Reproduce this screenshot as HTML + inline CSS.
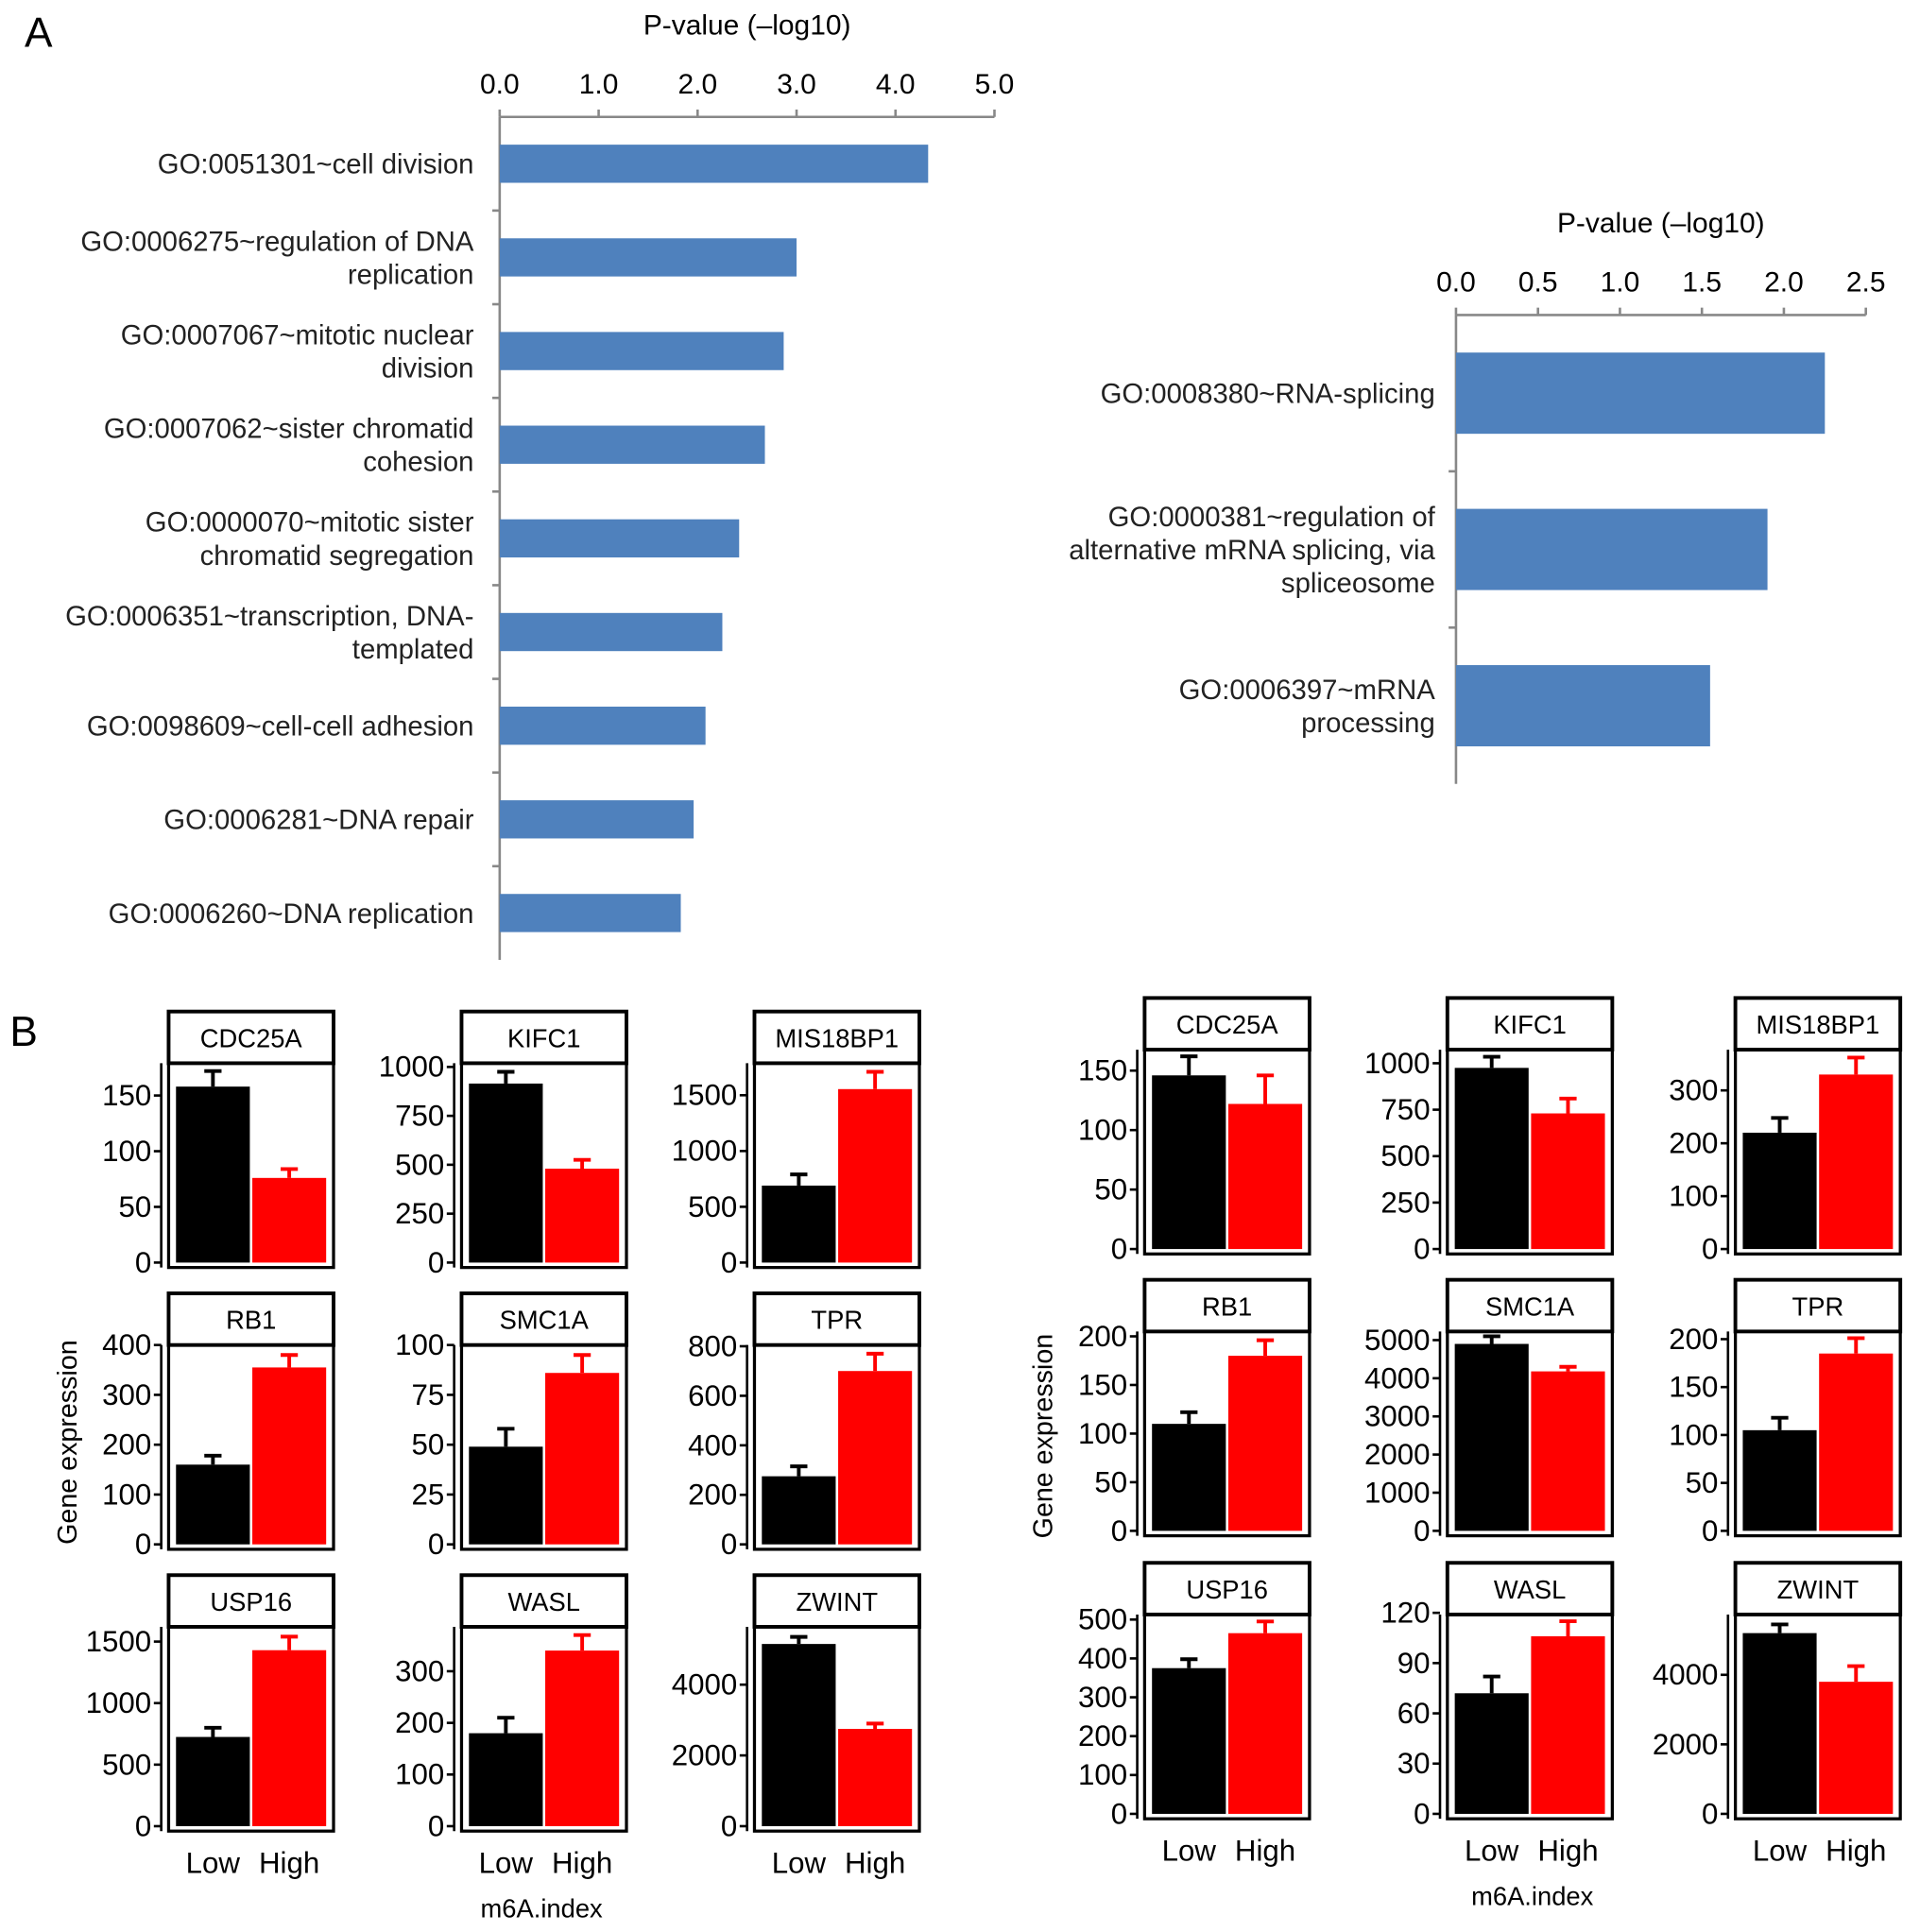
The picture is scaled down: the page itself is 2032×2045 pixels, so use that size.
<!DOCTYPE html>
<html><head><meta charset="utf-8"><style>
html,body{margin:0;padding:0;background:#fff;}
svg{display:block;font-family:"Liberation Sans",Arial,sans-serif;}
</style></head><body>
<svg id="fig" xmlns="http://www.w3.org/2000/svg" width="2032" height="2045" viewBox="0 0 1560 1570" preserveAspectRatio="none">
<text x="20" y="38" font-size="34">A</text>
<text x="8" y="850" font-size="34">B</text>
<g id="ga"></g><g id="gb"></g>
</svg>
<script>
const NS='http://www.w3.org/2000/svg';
function el(p,tag,at,txt){const e=document.createElementNS(NS,tag);for(const k in at)e.setAttribute(k,at[k]);if(txt!==undefined)e.textContent=txt;p.appendChild(e);return e;}

// ---- Panel A data ----
const leftTerms=[["GO:0051301~cell division"],["GO:0006275~regulation of DNA","replication"],["GO:0007067~mitotic nuclear","division"],["GO:0007062~sister chromatid","cohesion"],["GO:0000070~mitotic sister","chromatid segregation"],["GO:0006351~transcription, DNA-","templated"],["GO:0098609~cell-cell adhesion"],["GO:0006281~DNA repair"],["GO:0006260~DNA replication"]];
const leftValues=[4.33,3.0,2.87,2.68,2.42,2.25,2.08,1.96,1.83];
const leftTicks=[0,1,2,3,4,5];
const rightTerms=[["GO:0008380~RNA-splicing"],["GO:0000381~regulation of","alternative mRNA splicing, via","spliceosome"],["GO:0006397~mRNA","processing"]];
const rightValues=[2.25,1.9,1.55];
const rightTicks=[0,0.5,1.0,1.5,2.0,2.5];

function barChart(g,o,terms,vals,ticks,dec,name){
  const x=v=>o.x0+(v-ticks[0])/(ticks[ticks.length-1]-ticks[0])*(o.x1-o.x0);
  const n=terms.length, step=(o.yb-o.yt)/n;
  el(g,'text',{x:(o.x0+o.x1)/2,y:o.yt-67,'font-size':23,'text-anchor':'middle',},'P-value (\u2013log10)');
  el(g,'line',{x1:o.x0,y1:o.yt,x2:o.x1,y2:o.yt,stroke:'#888','stroke-width':2});
  el(g,'line',{x1:o.x0,y1:o.yt,x2:o.x0,y2:o.yb,stroke:'#888','stroke-width':2});
  ticks.forEach(t=>{el(g,'line',{x1:x(t),y1:o.yt,x2:x(t),y2:o.yt-6,stroke:'#888','stroke-width':2});
    const tl=el(g,'text',{x:x(t),y:o.yt-19,'font-size':23,'text-anchor':'middle'},t.toFixed(dec));
    
    });
  for(let i=1;i<n;i++)el(g,'line',{x1:o.x0-6,y1:o.yt+i*step,x2:o.x0,y2:o.yt+i*step,stroke:'#888','stroke-width':2});
  vals.forEach((v,i)=>{const cy=o.yt+(i+0.5)*step;
    const r=el(g,'rect',{x:o.x0,y:cy-o.bh/2,width:x(v)-o.x0,height:o.bh,fill:'#4f81bd'});
    
    
    const lines=terms[i];const lh=27;
    lines.forEach((s,j)=>{const t=el(g,'text',{x:o.lx,y:cy+8+(j-(lines.length-1)/2)*lh,'font-size':22.5,'text-anchor':'end',fill:'#222'},s);
      
      });
  });
}
const ga=document.getElementById('ga');
barChart(ga,{x0:406,x1:808,yt:95,yb:780,bh:31,lx:385},leftTerms,leftValues,leftTicks,1,'go-left');
barChart(ga,{x0:1183,x1:1516,yt:256,yb:637,bh:66,lx:1166},rightTerms,rightValues,rightTicks,1,'go-right');

// ---- Panel B data ----
const genes=["CDC25A","KIFC1","MIS18BP1","RB1","SMC1A","TPR","USP16","WASL","ZWINT"];
const leftLow=[158,915,690,160,49,275,725,180,5150];
const leftLowErr=[172,975,790,178,58,315,800,210,5350];
const leftHigh=[76,480,1555,355,86,700,1430,340,2750];
const leftHighErr=[84,525,1710,380,95,770,1540,370,2900];
const leftMax=[179,1019,1787,400,100,805,1620,386,5635];
const leftTicksB=[[0,50,100,150],[0,250,500,750,1000],[0,500,1000,1500],[0,100,200,300,400],[0,25,50,75,100],[0,200,400,600,800],[0,500,1000,1500],[0,100,200,300],[0,2000,4000]];
const rightLow=[146,975,220,110,4900,105,375,72,5200];
const rightLowErr=[162,1035,248,122,5100,118,398,82,5450];
const rightHigh=[122,730,330,180,4180,185,465,106,3800];
const rightHighErr=[146,810,362,196,4300,201,495,115,4250];
const rightMax=[167.6,1073,377,205,5226,208,513,119,5735];
const rightTicksB=[[0,50,100,150],[0,250,500,750,1000],[0,100,200,300],[0,50,100,150,200],[0,1000,2000,3000,4000,5000],[0,50,100,150,200],[0,100,200,300,400,500],[0,30,60,90,120],[0,2000,4000]];

function group(g,L,low,lowE,high,highE,mx,tks,name){
  genes.forEach((gn,i)=>{
    const c=i%3,r=Math.floor(i/3);
    const x=L.cols[c], hy=L.heads[r], top=hy+42, zero=top+162, w=134;
    const y=v=>zero-v/mx[i]*(zero-top);
    const pg=el(g,'g',{});
    
    
    el(pg,'rect',{x:x,y:hy,width:w,height:42,fill:'#fff',stroke:'#000','stroke-width':3});
    el(pg,'text',{x:x+w/2,y:hy+29,'font-size':21,'text-anchor':'middle',},gn);
    el(pg,'rect',{x:x,y:top,width:w,height:zero-top+4,fill:'none',stroke:'#000','stroke-width':2.5});
    const bars=[[low[i],lowE[i],'#000',x+6,60],[high[i],highE[i],'#f00',x+68,60]];
    bars.forEach((b,k)=>{
      const cx=b[3]+b[4]/2;
      el(pg,'line',{x1:cx,y1:y(b[0]),x2:cx,y2:y(b[1]),stroke:b[2],'stroke-width':3});
      el(pg,'line',{x1:cx-7,y1:y(b[1]),x2:cx+7,y2:y(b[1]),stroke:b[2],'stroke-width':3});
      const rr=el(pg,'rect',{x:b[3],y:y(b[0]),width:b[4],height:zero-y(b[0]),fill:b[2]});
      
      
    });
    el(pg,'line',{x1:x-6,y1:top,x2:x-6,y2:zero+4,stroke:'#000','stroke-width':2});
    tks[i].forEach(t=>{
      el(pg,'line',{x1:x-12,y1:y(t),x2:x-6,y2:y(t),stroke:'#000','stroke-width':2});
      const tl=el(pg,'text',{x:x-14,y:y(t)+8,'font-size':24,'text-anchor':'end'},String(t));
      
      
    });
    if(r===2){
      el(pg,'text',{x:x+36,y:zero+L.xlOff,'font-size':24,'text-anchor':'middle',},'Low');
      el(pg,'text',{x:x+98,y:zero+L.xlOff,'font-size':24,'text-anchor':'middle',},'High');
    }
  });
  el(g,'text',{x:L.m6x,y:L.m6y,'font-size':21,'text-anchor':'middle',},'m6A.index');
  el(g,'text',{x:0,y:0,'font-size':22,'text-anchor':'middle',transform:`translate(${L.gex},${L.gey}) rotate(-90)`,},'Gene expression');
}
const gb=document.getElementById('gb');
group(gb,{cols:[137,375,613],heads:[822,1051,1280],xlOff:38,m6x:440,m6y:1558,gex:62,gey:1172},leftLow,leftLowErr,leftHigh,leftHighErr,leftMax,leftTicksB,'expr-left');
group(gb,{cols:[930,1176,1410],heads:[811,1040,1270],xlOff:38,m6x:1245,m6y:1548,gex:855,gey:1167},rightLow,rightLowErr,rightHigh,rightHighErr,rightMax,rightTicksB,'expr-right');
</script>
</body></html>
